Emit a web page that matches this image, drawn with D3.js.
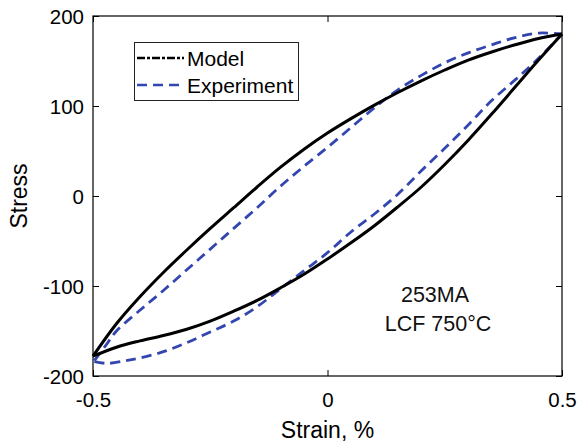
<!DOCTYPE html>
<html>
<head>
<meta charset="utf-8">
<script src="https://cdn.jsdelivr.net/npm/d3@7"></script>
<style>
  html, body { margin: 0; padding: 0; background: #fff; }
  svg { display: block; font-family: "Liberation Sans", Arial, sans-serif; }
</style>
</head>
<body>
<svg id="chart" width="582" height="443"></svg>
<script>
// Hysteresis loop of 253MA, low-cycle fatigue at 750 °C: [strain %, stress]
const modelUpper = [
  [-0.5, -178], [-0.45, -142], [-0.4, -112], [-0.35, -85], [-0.3, -60],
  [-0.25, -36], [-0.2, -13], [-0.15, 10], [-0.1, 32], [-0.05, 52],
  [0, 70], [0.05, 86], [0.1, 101], [0.15, 115], [0.2, 128],
  [0.25, 140], [0.3, 151], [0.35, 160], [0.4, 168], [0.45, 175], [0.5, 180]
];
const modelLower = [
  [-0.5, -178], [-0.45, -168], [-0.4, -161], [-0.35, -155], [-0.3, -148],
  [-0.25, -139], [-0.2, -128], [-0.15, -116], [-0.1, -102], [-0.05, -87],
  [0, -70], [0.05, -52], [0.1, -33], [0.15, -12], [0.2, 10],
  [0.25, 35], [0.3, 62], [0.35, 91], [0.4, 121], [0.45, 151], [0.5, 180]
];
const expUpper = [
  [-0.497, -183], [-0.47, -164], [-0.45, -150], [-0.4, -127], [-0.35, -105],
  [-0.3, -82], [-0.25, -59], [-0.2, -36], [-0.15, -13], [-0.1, 11],
  [-0.05, 33], [0, 54], [0.05, 76], [0.1, 98], [0.15, 118],
  [0.2, 134], [0.25, 148], [0.3, 159], [0.35, 168], [0.4, 176],
  [0.45, 181], [0.5, 180]
];
const expLower = [
  [-0.497, -184], [-0.47, -186], [-0.43, -183], [-0.4, -180], [-0.35, -173],
  [-0.3, -163], [-0.25, -151], [-0.2, -139], [-0.15, -123], [-0.1, -103],
  [-0.05, -83], [0, -63], [0.05, -40], [0.1, -20], [0.15, 2],
  [0.2, 28], [0.25, 53], [0.3, 79], [0.35, 106], [0.4, 129],
  [0.45, 153], [0.5, 180]
];
const xTicks = [-0.5, 0, 0.5];
const yTicks = [-200, -100, 0, 100, 200];
const seriesNames = ["Model", "Experiment"];
const annotation = ["253MA", "LCF 750\u00B0C"];

const W = 582, H = 443;
const plot = { left: 93, top: 16, right: 562, bottom: 376 };
const modelColor = "#000000";
const expColor = "#3346b0";

const svg = d3.select("#chart");
svg.append("rect").attr("width", W).attr("height", H).attr("fill", "#fff");

const x = d3.scaleLinear().domain([-0.5, 0.5]).range([plot.left, plot.right]);
const y = d3.scaleLinear().domain([-200, 200]).range([plot.bottom, plot.top]);

const line = d3.line()
  .x(d => x(d[0])).y(d => y(d[1]))
  .curve(d3.curveCatmullRom.alpha(0.5));

// Experiment (dashed blue), drawn first so the model line sits on top
[expUpper, expLower].forEach(branch => {
  svg.append("path").datum(branch)
    .attr("d", line)
    .attr("fill", "none")
    .attr("stroke", expColor)
    .attr("stroke-width", 2.8)
    .attr("stroke-dasharray", "10,6");
});
[modelUpper, modelLower].forEach(branch => {
  svg.append("path").datum(branch)
    .attr("d", line)
    .attr("fill", "none")
    .attr("stroke", modelColor)
    .attr("stroke-width", 3)
    .attr("stroke-linejoin", "round");
});

// Axes box with inward ticks on all four sides
const tickLen = 6;
const fmt = d => (d === 0 ? "0" : String(d));
const axBottom = d3.axisBottom(x).tickValues(xTicks).tickSize(-tickLen).tickFormat(fmt);
const axTop = d3.axisTop(x).tickValues(xTicks).tickSize(-tickLen).tickFormat("");
const axLeft = d3.axisLeft(y).tickValues(yTicks).tickSize(-tickLen).tickFormat(fmt);
const axRight = d3.axisRight(y).tickValues(yTicks).tickSize(-tickLen).tickFormat("");

function styleAxis(g) {
  g.select(".domain").remove();
  g.selectAll(".tick line").attr("stroke", "#000").attr("stroke-width", 1);
  g.selectAll(".tick text").attr("fill", "#000").attr("font-size", 20.5)
    .attr("font-family", "'Liberation Sans', Arial, sans-serif");
}
const gB = svg.append("g").attr("transform", `translate(0,${plot.bottom})`).call(axBottom).call(styleAxis);
gB.selectAll(".tick text").attr("y", 16).attr("dy", "0.71em");
svg.append("g").attr("transform", `translate(0,${plot.top})`).call(axTop).call(styleAxis);
const gL = svg.append("g").attr("transform", `translate(${plot.left},0)`).call(axLeft).call(styleAxis);
gL.selectAll(".tick text").attr("x", -9).attr("dy", "0.38em");
svg.append("g").attr("transform", `translate(${plot.right},0)`).call(axRight).call(styleAxis);

svg.append("rect")
  .attr("x", plot.left).attr("y", plot.top)
  .attr("width", plot.right - plot.left).attr("height", plot.bottom - plot.top)
  .attr("fill", "none").attr("stroke", "#000").attr("stroke-width", 1.2);

// Axis titles
svg.append("text")
  .attr("x", (plot.left + plot.right) / 2).attr("y", 438)
  .attr("text-anchor", "middle").attr("font-size", 23).attr("fill", "#000")
  .text("Strain, %");
svg.append("text")
  .attr("transform", `translate(27,${(plot.top + plot.bottom) / 2}) rotate(-90)`)
  .attr("text-anchor", "middle").attr("font-size", 23).attr("fill", "#000")
  .text("Stress");

// Material / test condition note
svg.append("text")
  .attr("x", 435).attr("y", 302).attr("text-anchor", "middle")
  .attr("font-size", 21.5).attr("fill", "#111").text(annotation[0]);
svg.append("text")
  .attr("x", 438).attr("y", 331).attr("text-anchor", "middle")
  .attr("font-size", 21.5).attr("fill", "#111").text(annotation[1]);

// Legend
const legend = svg.append("g");
legend.append("rect")
  .attr("x", 134.5).attr("y", 42.5).attr("width", 164).attr("height", 58)
  .attr("fill", "#fff").attr("stroke", "#222").attr("stroke-width", 1);
const legendRows = [
  { name: seriesNames[0], color: modelColor, dash: "8,2,3,2", yy: 58 },
  { name: seriesNames[1], color: expColor, dash: "10,6", yy: 85 }
];
legendRows.forEach(r => {
  legend.append("line")
    .attr("x1", 137).attr("x2", 184).attr("y1", r.yy).attr("y2", r.yy)
    .attr("stroke", r.color).attr("stroke-width", 2.6).attr("stroke-dasharray", r.dash);
  legend.append("text")
    .attr("x", 187).attr("y", r.yy).attr("dy", "0.36em")
    .attr("font-size", 21).attr("fill", "#000").text(r.name);
});
</script>
</body>
</html>
